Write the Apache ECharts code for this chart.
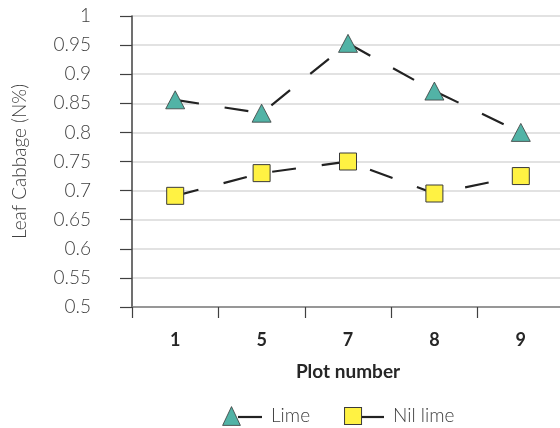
<!DOCTYPE html>
<html><head><meta charset="utf-8">
<script src="https://cdn.jsdelivr.net/npm/echarts@6/dist/echarts.min.js"></script>
<style>html,body{margin:0;padding:0;background:#fff;overflow:hidden}#c{width:572px;height:428px}</style>
</head><body><div id="c"></div>
<script>
var categories = ['1', '5', '7', '8', '9'];
var limeValues = [0.856, 0.833, 0.953, 0.871, 0.800];
var nilLimeValues = [0.691, 0.730, 0.750, 0.695, 0.725];
var yTicks = [0.5, 0.55, 0.6, 0.65, 0.7, 0.75, 0.8, 0.85, 0.9, 0.95, 1];

var limeColor = '#52b3a6';
var nilColor = '#fff243';
function svgIcon(shape) {
  var s = '<svg xmlns="http://www.w3.org/2000/svg" width="40" height="20" viewBox="0 0 40 20" preserveAspectRatio="none">' +
    '<line x1="16" y1="11" x2="40" y2="11" stroke="#222" stroke-width="2.2"/>' + shape + '</svg>';
  return 'image://data:image/svg+xml;charset=utf-8,' + encodeURIComponent(s);
}
var limeIcon = svgIcon('<polygon points="0.6,19.4 9.5,0.6 18.4,19.4" fill="' + limeColor + '" stroke="#3a3a3a" stroke-width="0.8"/>');
var nilIcon = svgIcon('<rect x="0.5" y="1.5" width="17" height="17" fill="' + nilColor + '" stroke="#3a3a3a" stroke-width="1"/>');

var chart = echarts.init(document.getElementById('c'), null, {renderer: 'canvas'});
var lightFont = 'Lato';
chart.setOption({
  animation: false,
  grid: {left: 132, top: 16, width: 432, height: 291},
  legend: {
    top: 401, left: 217,
    itemWidth: 40, itemHeight: 20, itemGap: 34,
    textStyle: {fontFamily: lightFont, fontWeight: 300, fontSize: 19, color: '#404040', padding: [0, 0, 0, 4]},
    data: [{name: 'Lime', icon: limeIcon}, {name: 'Nil lime', icon: nilIcon}]
  },
  xAxis: {
    type: 'category', data: categories,
    name: 'Plot number', nameLocation: 'middle', nameGap: 55,
    nameTextStyle: {fontFamily: lightFont, fontWeight: 'bold', fontSize: 19, color: '#262626'},
    axisLine: {lineStyle: {color: '#7f7f7f', width: 1.5}},
    axisTick: {show: true, length: 11, lineStyle: {color: '#404040', width: 1.2}},
    axisLabel: {fontFamily: lightFont, fontWeight: 'bold', fontSize: 18, color: '#262626', margin: 24},
    splitLine: {show: false}
  },
  yAxis: {
    type: 'value', min: 0.5, max: 1, interval: 0.05,
    name: 'Leaf Cabbage (N%)', nameLocation: 'middle', nameGap: 103, nameRotate: 90,
    nameTextStyle: {fontFamily: lightFont, fontWeight: 300, fontSize: 19, color: '#404040'},
    axisLine: {show: true, lineStyle: {color: '#404040', width: 1.5}},
    axisTick: {show: true, length: 12, lineStyle: {color: '#404040', width: 1.2}},
    axisLabel: {fontFamily: lightFont, fontWeight: 300, fontSize: 19, color: '#404040', margin: 41,
      formatter: function (v) {
        var m = yTicks.filter(function (t) { return Math.abs(t - v) < 1e-6; });
        return m.length ? String(m[0]) : '';
      }},
    splitLine: {show: true, lineStyle: {color: '#d9d9d9', width: 1.5}}
  },
  series: [
    {
      name: 'Lime', type: 'line', data: limeValues,
      symbol: 'triangle', symbolSize: [19, 18],
      itemStyle: {color: limeColor, borderColor: '#3a3a3a', borderWidth: 0.8},
      lineStyle: {color: '#222', width: 2.2, type: [24, 26]},
      z: 3
    },
    {
      name: 'Nil lime', type: 'line', data: nilLimeValues,
      symbol: 'rect', symbolSize: 17,
      itemStyle: {color: nilColor, borderColor: '#3a3a3a', borderWidth: 1},
      lineStyle: {color: '#222', width: 2.2, type: [24, 26]},
      z: 3
    }
  ]
});
</script></body></html>
